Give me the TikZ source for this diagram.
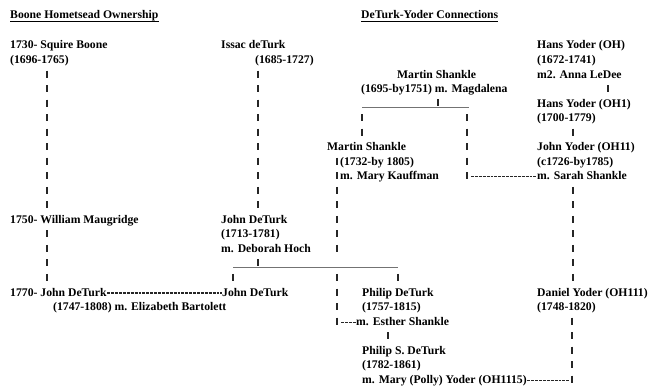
\documentclass[tikz,border=0pt]{standalone}
\usepackage{fontspec}
\setmainfont{Liberation Serif}
\newcommand{\RowY}[1]{(45+(#1-1)*14.53)}
% vertical run of "|" ticks: name, x, first row, last row
\newcommand{\TickRun}[4]{%
  \coordinate (#1a) at (#2,{\RowY{#3}-3.5});
  \coordinate (#1b) at (#2,{\RowY{#4}+3.5});
  \draw[bars] (#1a) -- (#1b);}
\begin{document}
\begin{tikzpicture}[x=1pt,y=-1pt,
  txt/.style={font=\fontsize{11.7}{14}\selectfont\bfseries, inner sep=0pt, anchor=base west},
  head/.style={txt, text depth=2.6pt},
  bars/.style={line width=1.1pt, draw=black!85, dash pattern=on 7pt off 7.53pt},
  hy/.style={line width=1.1pt, draw=black!85, dash pattern=on 2.9pt off 1pt},
  rule/.style={line width=0.8pt, draw=black!55}]
\useasboundingbox (0,0) rectangle (659,387);
\fill[white] (0,0) rectangle (659,387);

% headings
\node[head] (h1) at (10,18.5) {Boone Hometsead Ownership};
\node[head] (h2) at (361,18.5) {DeTurk-Yoder Connections};
\draw[line width=0.8pt] (h1.south west) -- (h1.south east);
\draw[line width=0.8pt] (h2.south west) -- (h2.south east);

% text lines
\node[txt] (boone1) at (10,{\RowY{1}+4}) {1730- Squire Boone};
\node[txt] (issac1) at (221,{\RowY{1}+4}) {Issac deTurk};
\node[txt] (hans1)  at (537,{\RowY{1}+4}) {Hans Yoder (OH)};
\node[txt] (boone2) at (10,{\RowY{2}+4}) {(1696-1765)};
\node[txt] (issac2) at (255,{\RowY{2}+4}) {(1685-1727)};
\node[txt] (hans2)  at (537,{\RowY{2}+4}) {(1672-1741)};
\node[txt] (ms1)    at (397,{\RowY{3}+4}) {Martin Shankle};
\node[txt] (hans3)  at (537,{\RowY{3}+4}) {m2. Anna LeDee};
\node[txt] (ms2)    at (361,{\RowY{4}+4}) {(1695-by1751) m. Magdalena};
\node[txt] (hy1)    at (537,{\RowY{5}+4}) {Hans Yoder (OH1)};
\node[txt] (hy2)    at (537,{\RowY{6}+4}) {(1700-1779)};
\node[txt] (mj1)    at (327,{\RowY{8}+4}) {Martin Shankle};
\node[txt] (jy1)    at (537,{\RowY{8}+4}) {John Yoder (OH11)};
\node[txt] (mj2)    at (340,{\RowY{9}+4}) {(1732-by 1805)};
\node[txt] (jy2)    at (537,{\RowY{9}+4}) {(c1726-by1785)};
\node[txt] (mj3)    at (340,{\RowY{10}+4}) {m. Mary Kauffman};
\node[txt] (jy3)    at (537,{\RowY{10}+4}) {m. Sarah Shankle};
\node[txt] (maug)   at (10,{\RowY{13}+4}) {1750- William Maugridge};
\node[txt] (jd1)    at (221,{\RowY{13}+4}) {John DeTurk};
\node[txt] (jd2)    at (221,{\RowY{14}+4}) {(1713-1781)};
\node[txt] (jd3)    at (221,{\RowY{15}+4}) {m. Deborah Hoch};
\node[txt] (jt1)    at (10,{\RowY{18}+4}) {1770- John DeTurk};
\node[txt] (jt2)    at (222,{\RowY{18}+4}) {John DeTurk};
\node[txt] (pd1)    at (362,{\RowY{18}+4}) {Philip DeTurk};
\node[txt] (dy1)    at (537,{\RowY{18}+4}) {Daniel Yoder (OH111)};
\node[txt] (jt3)    at (53,{\RowY{19}+4}) {(1747-1808) m. Elizabeth Bartolett};
\node[txt] (pd2)    at (362,{\RowY{19}+4}) {(1757-1815)};
\node[txt] (dy2)    at (537,{\RowY{19}+4}) {(1748-1820)};
\node[txt] (pd3)    at (356,{\RowY{20}+4}) {m. Esther Shankle};
\node[txt] (ps1)    at (362,{\RowY{22}+4}) {Philip S. DeTurk};
\node[txt] (ps2)    at (362,{\RowY{23}+4}) {(1782-1861)};
\node[txt] (ps3)    at (362,{\RowY{24}+4}) {m. Mary (Polly) Yoder (OH1115)};

% vertical tick runs
\TickRun{A}{47}{3}{12}
\TickRun{Ab}{47}{14}{17}
\TickRun{B}{258}{3}{12}
\TickRun{D}{362}{6}{7}
\TickRun{E}{467}{6}{10}
\TickRun{C}{337}{9}{15}
\TickRun{Cb}{337}{17}{20}
\TickRun{F}{608}{4}{4}
\TickRun{Fb}{573}{7}{7}
\TickRun{Fc}{573}{11}{17}
\TickRun{Fd}{572}{20}{24}
\TickRun{G}{388}{21}{21}
\TickRun{K}{233}{17}{17}
\TickRun{L}{398}{17}{17}

% sibling rules
\coordinate (u1a) at (362,107);
\coordinate (u1b) at (469,107);
\coordinate (u1m) at (438,107);
\coordinate (u1t) at (438,99.5);
\draw[rule] (u1a) -- (u1b);
\draw[bars] (u1t) -- (u1m);
\coordinate (u2a) at (233,267);
\coordinate (u2b) at (398,267);
\coordinate (u2m) at (258,267);
\coordinate (u2t) at (258,259.5);
\draw[rule] (u2a) -- (u2b);
\draw[bars] (u2t) -- (u2m);

% hyphen connectors
\coordinate (eh) at (471,{\RowY{10}+1});
\draw[hy] (eh) -- ([yshift=3pt]jy3.base west);
\draw[hy] ([yshift=3pt,xshift=0.5pt]jt1.base east) -- ([yshift=3pt]jt2.base west);
\coordinate (ch) at (341,{\RowY{20}+1});
\draw[hy] (ch) -- ([yshift=3pt]pd3.base west);
\coordinate (fh) at (570,{\RowY{24}+1});
\draw[hy] ([yshift=3pt,xshift=0.5pt]ps3.base east) -- (fh);
\end{tikzpicture}
\end{document}
